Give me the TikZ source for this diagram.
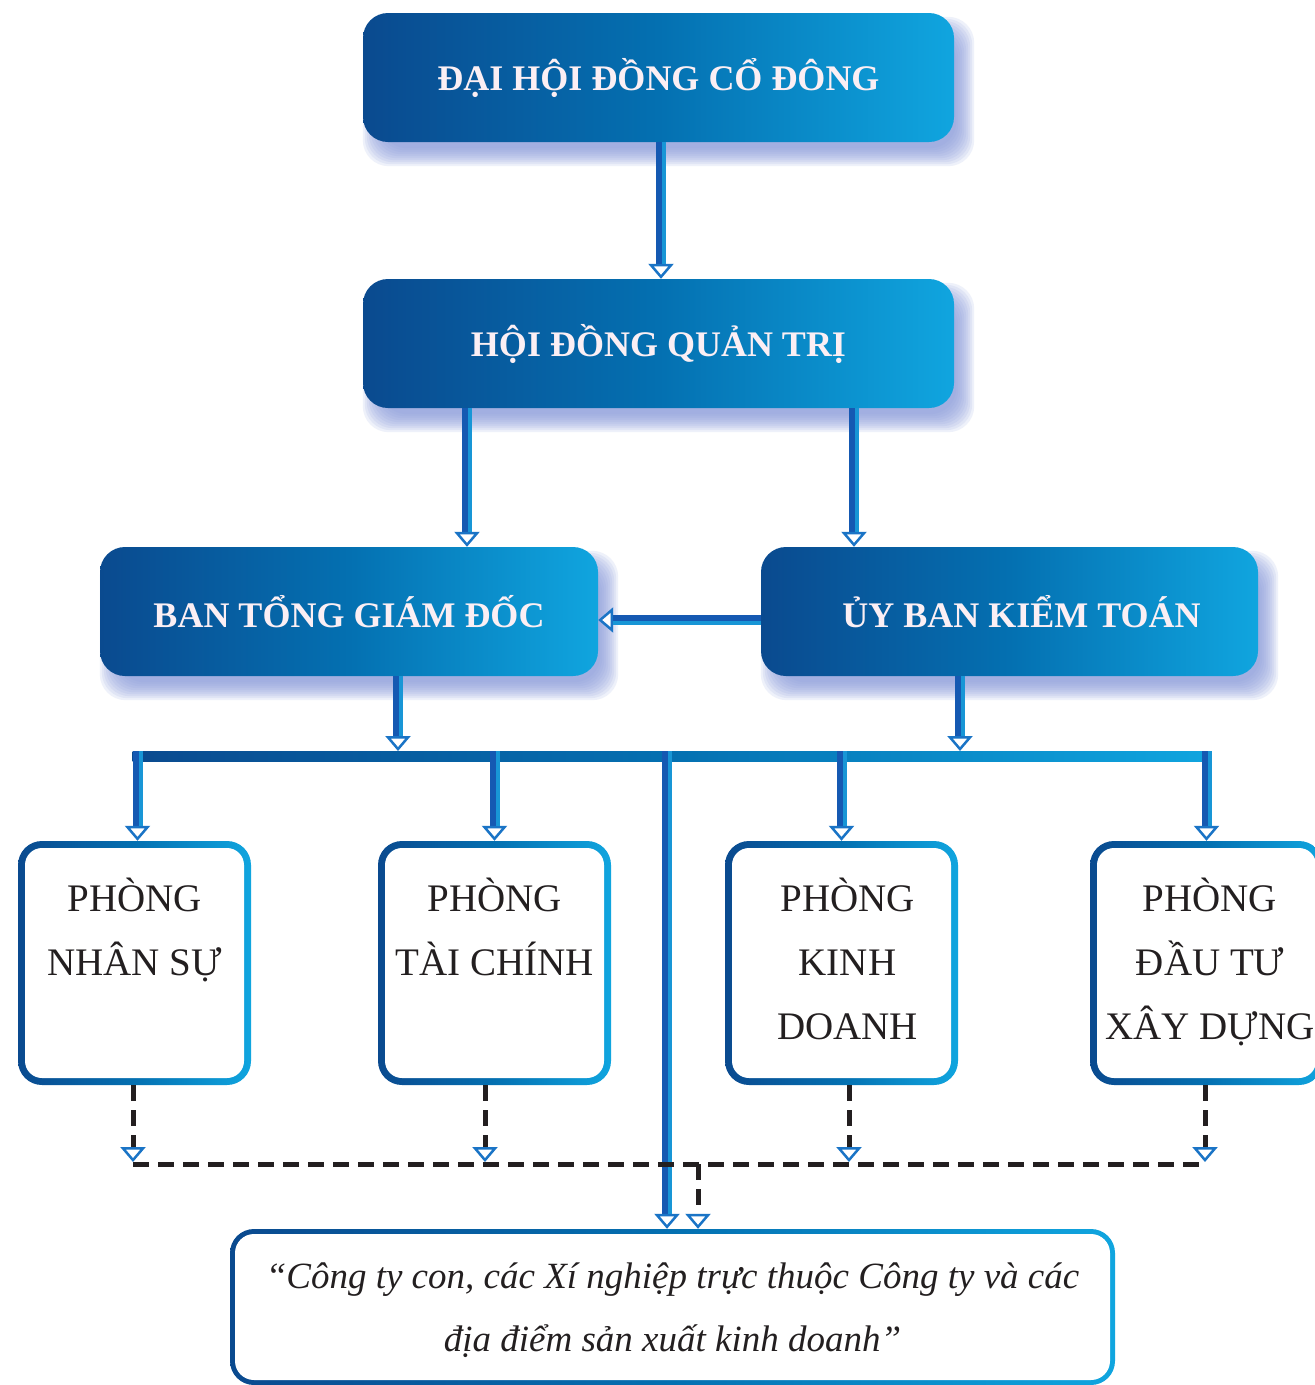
\documentclass[tikz,border=0pt]{standalone}
\usepackage{fontspec}
\setmainfont{Liberation Serif}
\usetikzlibrary{arrows.meta,calc,backgrounds}
\definecolor{cA}{HTML}{0A4A8F}
\definecolor{cB}{HTML}{0470B1}
\definecolor{cC}{HTML}{10A5DF}
\definecolor{titlec}{HTML}{FBEFF4}
\definecolor{inkc}{HTML}{231F20}
\definecolor{shadowc}{HTML}{8C9DDC}
\definecolor{connc}{HTML}{1559B2}
\definecolor{connhi}{HTML}{1896D6}
\definecolor{tipc}{HTML}{1A74C6}
\begin{document}
\begin{tikzpicture}[x=1pt,y=-1pt,
  headbox/.style={minimum width=#1, minimum height=129pt, inner sep=0pt,
    rounded corners=25pt, left color=cA, right color=cC, middle color=cB,
    text=titlec, font=\fontsize{36}{40}\selectfont\bfseries},
  deptbox/.style={minimum width=233pt, minimum height=244pt, inner sep=0pt,
    rounded corners=24pt, left color=cA, right color=cC, middle color=cB,
    text=inkc, align=center, font=\fontsize{39}{64}\selectfont,
    path picture={\fill[white,rounded corners=17pt]
      ([shift={(7pt,7pt)}]path picture bounding box.south west) rectangle
      ([shift={(-7pt,-7pt)}]path picture bounding box.north east);}},
  unitbox/.style={minimum width=885pt, minimum height=156pt, inner sep=0pt,
    rounded corners=24pt, left color=cA, right color=cC, middle color=cB,
    text=inkc, align=center, font=\fontsize{37}{63}\selectfont\itshape,
    path picture={\fill[white,rounded corners=19pt]
      ([shift={(5pt,5pt)}]path picture bounding box.south west) rectangle
      ([shift={(-5pt,-5pt)}]path picture bounding box.north east);}},
  tipstyle/.style={-{Triangle[color=tipc, fill=white, length=15pt, width=25pt, line width=2.5pt]}},
  conn/.style={draw=connc, line width=10pt, tipstyle,
    postaction={draw=connhi, line width=4pt, -, shorten >=15pt, transform canvas={xshift=3pt}}},
  hconn/.style={draw=connc, line width=10pt, tipstyle,
    postaction={draw=connhi, line width=4pt, -, shorten >=15pt, transform canvas={yshift=-3pt}}},
  dline/.style={draw=inkc, line width=5pt, dash pattern=on 16pt off 9pt},
  dconn/.style={dline, tipstyle},
  busbar/.style={left color=cA, right color=cC, middle color=cB}
]
\useasboundingbox (0,0) rectangle (1315,1385);

% boxes
\node[headbox=591pt] (box1) at (658.5,77.5) {ĐẠI HỘI ĐỒNG CỔ ĐÔNG};
\node[headbox=591pt] (box2) at (658.5,343.5) {HỘI ĐỒNG QUẢN TRỊ};
\node[headbox=498pt] (box3) at (349,611.5) {BAN TỔNG GIÁM ĐỐC};
\node[headbox=497pt] (box4) at (1009.5,611.5) {\hspace*{24pt}ỦY BAN KIỂM TOÁN};

\node[deptbox] (b1) at (134.5,963) {PHÒNG\strut\\NHÂN SỰ\strut\\\strut};
\node[deptbox] (b2) at (494.5,963) {PHÒNG\strut\\TÀI CHÍNH\strut\\\strut};
\node[deptbox] (b3) at (841.5,963) {\hspace*{12pt}PHÒNG\strut\\\hspace*{12pt}KINH\strut\\\hspace*{12pt}DOANH\strut};
\node[deptbox] (b4) at (1206.5,963) {\hspace*{7pt}PHÒNG\strut\\\hspace*{7pt}ĐẦU TƯ\strut\\\hspace*{7pt}XÂY DỰNG\strut};

\node[unitbox] (bot) at (672.5,1307) {“Công ty con, các Xí nghiệp trực thuộc Công ty và các\strut\\địa điểm sản xuất kinh doanh”\strut};

% background and shadows
\begin{scope}[on background layer]
  \fill[white] (0,0) rectangle (1315,1385);
  \foreach \n in {box1,box2,box3,box4}{
    \foreach \e in {10,8,6,4,2,0,-2,-4,-6,-8}{
      \fill[shadowc, opacity=0.14, rounded corners=26pt]
        ($(\n.south west)+({10-\e},{14+\e})$) rectangle ($(\n.north east)+({10+\e},{14-\e})$);
    }
  }
\end{scope}

% upper connectors
\draw[conn] ([xshift=2.5pt]box1.south) -- ([xshift=2.5pt]box1.south |- box2.north);
\draw[conn] ([xshift=-191.5pt]box2.south) -- ([xshift=-191.5pt]box2.south |- box3.north);
\draw[conn] ([xshift=195.5pt]box2.south) -- ([xshift=195.5pt]box2.south |- box4.north);
\draw[hconn] ([yshift=-8.5pt]box4.west) -- ([yshift=-8.5pt]box4.west -| box3.east);

% bus
\coordinate (busL) at (132.5,756);
\coordinate (busR) at (1211.5,756);
\coordinate (busT) at (0,751);
\shade[busbar] ($(busL)+(0,-5)$) rectangle ($(busR)+(0,5)$);
\draw[conn] ([xshift=49pt]box3.south) -- ([xshift=49pt]box3.south |- busT);
\draw[conn] ([xshift=-49.5pt]box4.south) -- ([xshift=-49.5pt]box4.south |- busT);
\draw[conn] ([xshift=3pt]b1.north |- busT) -- ([xshift=3pt]b1.north);
\draw[conn] (b2.north |- busT) -- (b2.north);
\draw[conn] (b3.north |- busT) -- (b3.north);
\draw[conn] (b4.north |- busT) -- (b4.north);
\draw[conn] ([xshift=-5.5pt]bot.north |- busT) -- ([xshift=-5.5pt]bot.north);

% dashed links
\coordinate (dl) at (0,1164);
\coordinate (dlT) at (0,1162);
\draw[dconn] ([xshift=-1.5pt]b1.south) -- ([xshift=-1.5pt]b1.south |- dlT);
\draw[dconn] ([xshift=-9.5pt]b2.south) -- ([xshift=-9.5pt]b2.south |- dlT);
\draw[dconn] ([xshift=7.5pt]b3.south) -- ([xshift=7.5pt]b3.south |- dlT);
\draw[dconn] ([xshift=-1.5pt]b4.south) -- ([xshift=-1.5pt]b4.south |- dlT);
\draw[dline] ([xshift=-1.5pt]b1.south |- dl) -- ([xshift=-1.5pt]b4.south |- dl);
\draw[dconn] ([xshift=25.5pt]bot.north |- dl) -- ([xshift=25.5pt]bot.north);
\end{tikzpicture}
\end{document}
